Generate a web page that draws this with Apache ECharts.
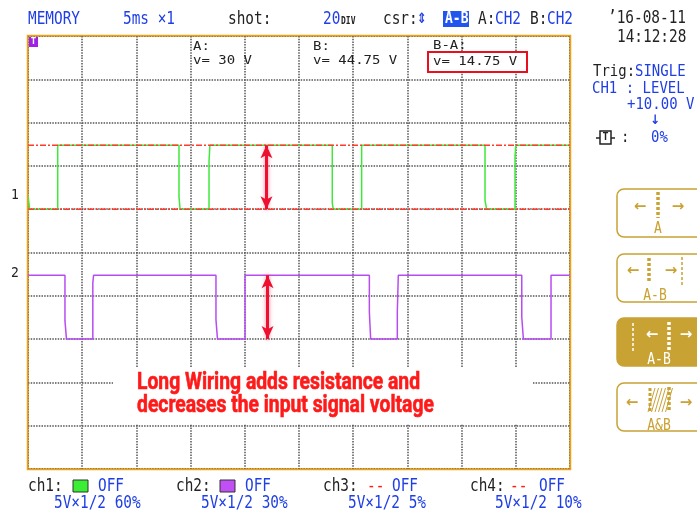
<!DOCTYPE html>
<html>
<head>
<meta charset="utf-8">
<script src="https://cdn.jsdelivr.net/npm/echarts@6/dist/echarts.min.js"></script>
<style>
html,body{margin:0;padding:0;background:#fff;}
#scope{width:697px;height:512px;}
</style>
</head>
<body>
<div id="scope"></div>
<script>
// Timebase: 5 ms per division, 10 divisions across
const timeMin = 0, timeMax = 50, msPerDiv = 5;
// Vertical: 10 divisions, 5V x 1/2 zoom -> 10 V per division
const divMin = 0, divMax = 10, voltsPerDiv = 10;
const ch1Position = 0.60;   // ground level as fraction of screen height
const ch2Position = 0.30;

// CH1 capture (ms, V)
const ch1Time = [0, 0.15, 2.74, 2.74, 13.93, 13.93, 14.03, 14.03, 16.70, 16.70, 16.78, 16.78,
                 28.07, 28.07, 28.16, 28.16, 30.78, 30.78, 42.16, 42.16, 42.31, 42.31,
                 44.93, 44.93, 45.00, 45.00, 50];
const ch1Volt = [3.2, 0, 0, 14.75, 14.75, 2.8, 2.8, 0, 0, 11.0, 11.0, 14.75,
                 14.75, 1.4, 1.4, 0, 0, 14.75, 14.75, 2.0, 2.0, 0,
                 0, 12.2, 12.2, 14.75, 14.75];

// CH2 capture (ms, V)
const ch2Time = [0, 3.41, 3.41, 3.55, 3.55, 5.98, 5.98, 6.05, 6.05, 17.34, 17.34, 17.48, 17.48,
                 20.02, 20.02, 31.49, 31.49, 31.61, 31.61, 34.07, 34.07, 34.16, 34.16,
                 45.55, 45.55, 45.70, 45.70, 48.25, 48.25, 50];
const ch2Volt = [14.75, 14.75, 4.2, 4.2, 0, 0, 13.0, 13.0, 14.75, 14.75, 4.5, 4.5, 0,
                 0, 14.75, 14.75, 6.3, 6.3, 0, 0, 6.3, 6.3, 14.75,
                 14.75, 5.1, 5.1, 0, 0, 14.75, 14.75];

// Voltage cursors (referenced to CH2)
const cursorA = 30;
const cursorB = 44.75;
const cursorDelta = 14.75;
const arrowTimes = [22.0, 22.1];   // where the amplitude arrows sit (ms)

const toDiv = (v, pos) => pos * divMax + v / voltsPerDiv;
const ch1Data = ch1Time.map((t, i) => [t, toDiv(ch1Volt[i], ch1Position)]);
const ch2Data = ch2Time.map((t, i) => [t, toDiv(ch2Volt[i], ch2Position)]);
const yA = toDiv(cursorA, ch2Position);
const yB = toDiv(cursorB, ch2Position);

const BLUE = '#1f3ee6', BLACK = '#222', GOLD = '#c9a234', RED = '#ff1a1a';
const MONO = '"DejaVu Sans Mono", monospace';
const GRID_BOX = {left: 28, top: 36, right: 127, bottom: 43};

const G = [];
function txt(x, y, s, color, size, sy, extra) {
  G.push({
    type: 'text', x: x, y: y, scaleY: sy == null ? 1.25 : sy, z: 50,
    style: Object.assign({
      text: s, fill: color, font: (size || 14.4) + 'px ' + MONO,
      align: 'left', verticalAlign: 'middle'
    }, extra || {})
  });
}

// ---- header row ----
txt(28, 19, 'MEMORY', BLUE);
txt(123, 19, '5ms ×1', BLUE);
txt(228, 19, 'shot:', BLACK);
txt(323, 19, '20', BLUE);
txt(341, 21, 'DIV', BLACK, 8, 1.4, {font: 'bold 8px ' + MONO});
txt(383, 19, 'csr:', BLACK);
txt(417, 19, '⇕', BLUE, 12, 1.2, {font: 'bold 12px "DejaVu Sans"'});
G.push({type: 'rect', z: 50, shape: {x: 443, y: 11, width: 26, height: 16}, style: {fill: '#2255ee'}});
txt(445, 19, 'A-B', '#fff', 13, 1.2, {font: 'bold 13px ' + MONO});
txt(478, 19, 'A:', BLACK);
txt(495, 19, 'CH2', BLUE);
txt(530, 19, 'B:', BLACK);
txt(547, 19, 'CH2', BLUE);
txt(608, 18, '’16-08-11', BLACK);
txt(617, 37, '14:12:28', BLACK);

// ---- cursor readouts ----
txt(193, 47, 'A:', BLACK, 14, 0.85);
txt(193, 61, 'v= ' + cursorA + ' V', BLACK, 14, 0.85);
txt(313, 47, 'B:', BLACK, 14, 0.85);
txt(313, 61, 'v= ' + cursorB + ' V', BLACK, 14, 0.85);
txt(433, 46, 'B-A:', BLACK, 14, 0.85);
G.push({type: 'rect', z: 49, shape: {x: 428, y: 52, width: 99, height: 20}, style: {fill: '#fff', stroke: '#e8101c', lineWidth: 2}});
txt(433, 62, 'v= ' + cursorDelta + ' V', BLACK, 14, 0.85);

// ---- trigger panel ----
txt(593, 72, 'Trig:', BLACK, 14, 1.15);
txt(635, 72, 'SINGLE', BLUE, 14, 1.15);
txt(592, 89, 'CH1 : LEVEL', BLUE, 14, 1.15);
txt(627, 105, '+10.00 V', BLUE, 14, 1.15);
txt(650, 121, '↓', BLUE, 12, 1.1, {font: 'bold 12px "DejaVu Sans"'});
G.push({type: 'line', z: 50, shape: {x1: 596, y1: 138, x2: 615, y2: 138}, style: {stroke: BLACK, lineWidth: 1.5}});
G.push({type: 'rect', z: 51, shape: {x: 600, y: 131, width: 11, height: 13}, style: {fill: '#fff', stroke: BLACK, lineWidth: 1.5}});
G.push({type: 'text', z: 52, x: 605.5, y: 137.5, style: {text: 'T', fill: BLACK, font: 'bold 10px ' + MONO, align: 'center', verticalAlign: 'middle'}});
txt(621, 138, ':', BLACK, 14, 1.15);
txt(651, 138, '0%', BLUE, 14, 1.15);

// ---- cursor-mode buttons ----
function button(y, filled) {
  G.push({type: 'rect', z: 50, shape: {x: 617, y: y, width: 95, height: 48, r: 7},
          style: {fill: filled ? GOLD : '#fff', stroke: GOLD, lineWidth: 1.5}});
}
function dots(x, y1, y2, color, w) {
  G.push({type: 'line', z: 51, shape: {x1: x, y1: y1, x2: x, y2: y2},
          style: {stroke: color, lineWidth: w, lineDash: [3, 2]}});
}
function arrow(x, y, dir, color) {
  G.push({type: 'text', z: 51, x: x, y: y,
          style: {text: dir < 0 ? '←' : '→', fill: color, font: 'bold 15px "DejaVu Sans"', align: 'center', verticalAlign: 'middle'}});
}
function label(x, y, s, color) {
  G.push({type: 'text', z: 51, x: x, y: y, scaleY: 1.2,
          style: {text: s, fill: color, font: '13px ' + MONO, align: 'center', verticalAlign: 'middle'}});
}
button(189, false);
arrow(640, 207, -1, GOLD); dots(658, 192, 218, GOLD, 3.5); arrow(678, 207, 1, GOLD); label(658, 229, 'A', GOLD);
button(254, false);
arrow(633, 271, -1, GOLD); dots(649, 258, 283, GOLD, 3.5); arrow(671, 271, 1, GOLD); dots(682, 257, 285, GOLD, 1.5); label(655, 296, 'A-B', GOLD);
button(318, true);
dots(633, 323, 352, '#fff', 1.5); arrow(652, 335, -1, '#fff'); dots(669, 322, 350, '#fff', 3.5); arrow(686, 335, 1, '#fff'); label(659, 360, 'A-B', '#fff');
button(383, false);
arrow(632, 403, -1, GOLD);
for (let k = 0; k < 6; k++) {
  G.push({type: 'line', z: 51, shape: {x1: 648 + k * 3.5, y1: 412, x2: 655 + k * 3.5, y2: 388},
          style: {stroke: GOLD, lineWidth: 1}});
}
dots(650, 388, 412, GOLD, 3); dots(669, 387, 412, GOLD, 3.5);
arrow(686, 403, 1, GOLD); label(659, 426, 'A&B', GOLD);

// ---- channel settings row ----
txt(28, 486, 'ch1:', BLACK);
G.push({type: 'rect', z: 50, shape: {x: 73, y: 480, width: 15, height: 12}, style: {fill: '#39ee33', stroke: '#333', lineWidth: 1}});
txt(98, 486, 'OFF', BLUE);
txt(54, 503, '5V×1/2 60%', BLUE);
txt(176, 486, 'ch2:', BLACK);
G.push({type: 'rect', z: 50, shape: {x: 220, y: 480, width: 15, height: 12}, style: {fill: '#c050f5', stroke: '#333', lineWidth: 1}});
txt(245, 486, 'OFF', BLUE);
txt(201, 503, '5V×1/2 30%', BLUE);
txt(323, 486, 'ch3:', BLACK);
txt(367, 486, '--', RED);
txt(392, 486, 'OFF', BLUE);
txt(348, 503, '5V×1/2 5%', BLUE);
txt(470, 486, 'ch4:', BLACK);
txt(510, 486, '--', RED);
txt(539, 486, 'OFF', BLUE);
txt(495, 503, '5V×1/2 10%', BLUE);

// ---- channel ground markers and trigger tag ----
txt(11, 195, '1', BLACK, 13, 1.1);
txt(11, 273, '2', BLACK, 13, 1.1);
G.push({type: 'rect', z: 60, shape: {x: 29, y: 37, width: 9, height: 10}, style: {fill: '#a020e8'}});
G.push({type: 'text', z: 61, x: 33.5, y: 42, style: {text: 'T', fill: '#fff', font: 'bold 9px ' + MONO, align: 'center', verticalAlign: 'middle'}});

// ---- screen frame (drawn over the edge graticule lines) ----
G.push({type: 'rect', z: 40, silent: true,
        shape: {x: GRID_BOX.left - 0.5, y: GRID_BOX.top - 0.5,
                width: 697 - GRID_BOX.left - GRID_BOX.right + 1, height: 512 - GRID_BOX.top - GRID_BOX.bottom + 1},
        style: {fill: null, stroke: '#eaa21c', lineWidth: 1.5}});

// ---- annotation ----
G.push({type: 'rect', z: 80, shape: {x: 113, y: 368, width: 420, height: 56}, style: {fill: '#fff'}});
G.push({type: 'text', z: 81, x: 137, y: 383, scaleX: 0.84,
        style: {text: 'Long Wiring adds resistance and', fill: RED, stroke: RED, lineWidth: 0.6, font: 'bold 23px Roboto', align: 'left', verticalAlign: 'middle'}});
G.push({type: 'text', z: 81, x: 137, y: 406, scaleX: 0.84,
        style: {text: 'decreases the input signal voltage', fill: RED, stroke: RED, lineWidth: 0.6, font: 'bold 23px Roboto', align: 'left', verticalAlign: 'middle'}});

const gridLine = {show: true, lineStyle: {color: '#555', width: 1.5, type: [1.5, 1.2]}};
const chart = echarts.init(document.getElementById('scope'), null, {renderer: 'canvas'});
chart.setOption({
  animation: false,
  backgroundColor: '#fff',
  grid: Object.assign({show: true, borderColor: '#eaa21c', borderWidth: 1.5, backgroundColor: '#fff'}, GRID_BOX),
  xAxis: {type: 'value', min: timeMin, max: timeMax, interval: msPerDiv,
          axisLine: {show: false}, axisTick: {show: false}, axisLabel: {show: false}, splitLine: gridLine},
  yAxis: {type: 'value', min: divMin, max: divMax, interval: 1,
          axisLine: {show: false}, axisTick: {show: false}, axisLabel: {show: false}, splitLine: gridLine},
  series: [
    {type: 'line', name: 'CH1', data: ch1Data, showSymbol: false, z: 3,
     lineStyle: {color: '#3fe83a', width: 1.5}},
    {type: 'line', name: 'CH2', data: ch2Data, showSymbol: false, z: 3,
     lineStyle: {color: '#b84cf2', width: 1.5}},
    {type: 'line', name: 'Cursor A', data: [[timeMin, yA], [timeMax, yA]], showSymbol: false, z: 4,
     lineStyle: {color: '#ff3c2c', width: 1.5, type: [6, 2, 2, 2]}},
    {type: 'line', name: 'Cursor B', data: [[timeMin, yB], [timeMax, yB]], showSymbol: false, z: 4,
     lineStyle: {color: '#ff3c2c', width: 1.5, type: [6, 2, 2, 2]}},
    {type: 'line', name: 'Amplitude', data: [], z: 5,
     markLine: {
       silent: true, symbol: ['arrow', 'arrow'], symbolSize: [9, 13],
       label: {show: false},
       lineStyle: {color: '#ee1030', width: 3, type: 'solid', shadowBlur: 4, shadowColor: 'rgba(255,40,80,0.6)'},
       data: [
         [{coord: [arrowTimes[0], toDiv(0, ch1Position)]}, {coord: [arrowTimes[0], toDiv(cursorDelta, ch1Position)]}],
         [{coord: [arrowTimes[1], toDiv(0, ch2Position)]}, {coord: [arrowTimes[1], toDiv(cursorDelta, ch2Position)]}]
       ]
     }}
  ],
  graphic: G
});
</script>
</body>
</html>
